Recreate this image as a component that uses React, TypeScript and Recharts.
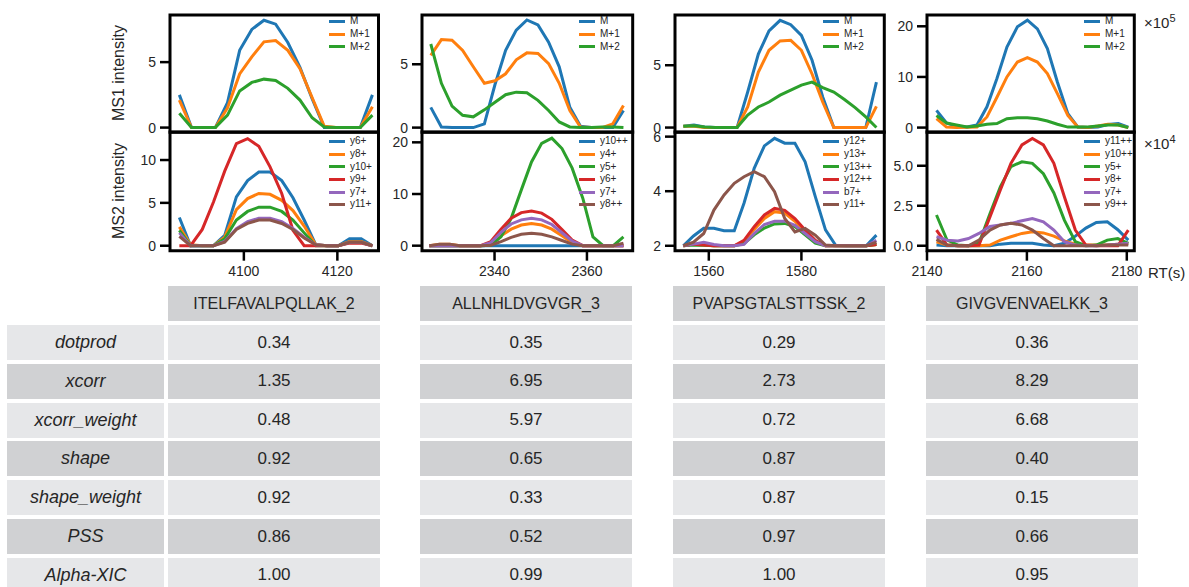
import React from 'react';
import { LineChart, Line, XAxis, YAxis, ReferenceArea, Legend } from 'recharts';

const FONT = '"Liberation Sans", Arial, Helvetica, sans-serif';
const TEXT = '#262626';

// tab10 colours used by the plots
const BLUE = '#1f77b4';
const ORANGE = '#ff7f0e';
const GREEN = '#2ca02c';
const RED = '#d62728';
const PURPLE = '#9467bd';
const BROWN = '#8c564b';

// ---------- ITELFAVALPQLLAK_2 ----------
const itelMs1Rt = [4086.2, 4088.8, 4091.4, 4093.9, 4096.5, 4099.1, 4101.7, 4104.3, 4106.8, 4109.4, 4112.0, 4114.6, 4117.2, 4119.7, 4122.3, 4124.9, 4127.5];
const itelM = [2.5, 0, 0, 0, 1.9, 5.9, 7.5, 8.2, 7.9, 6.5, 4.6, 2.2, 0, 0, 0, 0, 2.5];
const itelM1 = [2.1, 0, 0, 0, 1.5, 4.1, 5.4, 6.55, 6.65, 5.9, 4.5, 2.3, 0.1, 0, 0, 0, 1.6];
const itelM2 = [1.1, 0, 0, 0, 0.95, 2.8, 3.45, 3.7, 3.6, 3.0, 2.1, 0.75, 0.05, 0, 0, 0, 0.95];

const itelMs2Rt = [4086.2, 4088.6, 4091.1, 4093.5, 4095.9, 4098.4, 4100.8, 4103.2, 4105.6, 4108.1, 4110.5, 4112.9, 4115.4, 4117.8, 4120.2, 4122.6, 4125.1, 4127.5];
const itelY6 = [3.3, 0, 0, 0, 1.2, 5.7, 7.6, 8.6, 8.6, 7.6, 5.6, 3.0, 0.1, 0, 0, 0.8, 0.8, 0];
const itelY8 = [2.2, 0.1, 0, 0, 1.0, 4.2, 5.5, 6.1, 6.0, 5.3, 4.1, 2.3, 0.1, 0, 0, 0.5, 0.5, 0];
const itelY10 = [1.8, 0, 0, 0, 0.8, 3.0, 4.0, 4.5, 4.5, 4.0, 3.0, 1.5, 0, 0, 0, 0.4, 0.4, 0];
const itelY9 = [0, 0, 1.9, 5.1, 8.7, 11.9, 12.5, 11.6, 9.2, 6.1, 1.8, 0, 0, 0, 0, 0.3, 0.3, 0];
const itelY7 = [1.5, 0, 0, 0, 0.5, 2.0, 2.8, 3.2, 3.2, 2.8, 2.0, 1.0, 0.1, 0, 0, 0.4, 0.4, 0];
const itelY11 = [1.1, 0, 0, 0, 0.4, 1.9, 2.6, 3.0, 3.0, 2.6, 1.9, 0.9, 0.1, 0, 0, 0.4, 0.4, 0];

// ---------- ALLNHLDVGVGR_3 ----------
const allnMs1Rt = [2326.2, 2328.5, 2330.8, 2333.1, 2335.4, 2337.8, 2340.1, 2342.4, 2344.7, 2347.0, 2349.4, 2351.7, 2354.0, 2356.3, 2358.6, 2361.0, 2363.3, 2365.6, 2367.9];
const allnM = [1.6, 0.05, 0, 0, 0, 0.3, 3.4, 6.1, 7.7, 8.5, 8.1, 6.75, 4.8, 1.6, 0.1, 0, 0, 0, 1.35];
const allnM1 = [5.7, 6.95, 6.9, 6.1, 4.8, 3.5, 3.7, 4.25, 5.35, 5.9, 5.85, 5.05, 3.5, 1.35, 0.05, 0, 0, 0.3, 1.75];
const allnM2 = [6.6, 3.5, 1.7, 0.97, 0.85, 1.4, 2.0, 2.6, 2.8, 2.75, 2.15, 1.35, 0.45, 0.05, 0, 0, 0.05, 0.05, 0];

const allnMs2Rt = [2325.9, 2328.1, 2330.3, 2332.5, 2334.7, 2337.0, 2339.2, 2341.4, 2343.6, 2345.8, 2348.0, 2350.2, 2352.4, 2354.6, 2356.8, 2359.1, 2361.3, 2363.5, 2365.7, 2367.9];
const allnY10pp = [0, 0, 0, 0, 0, 0, 0, 0, 0, 0, 0, 0, 0, 0, 0, 0, 0, 0, 0, 0];
const allnY4 = [0, 0.3, 0.3, 0, 0, 0, 0.4, 1.9, 3.2, 4.0, 4.3, 4.0, 3.2, 1.9, 0.6, 0, 0, 0, 0, 0];
const allnY5 = [0, 0, 0, 0, 0, 0, 0.1, 1.7, 5.3, 10.8, 16.2, 19.8, 20.8, 18.8, 15.0, 9.2, 1.7, 0, 0, 1.7];
const allnY6 = [0, 0, 0, 0, 0, 0, 0.8, 3.2, 5.3, 6.4, 6.7, 6.3, 5.1, 3.1, 1.1, 0, 0, 0, 0, 0];
const allnY7 = [0, 0, 0, 0, 0, 0, 0.6, 2.6, 4.2, 5.0, 5.3, 5.0, 4.1, 2.5, 0.9, 0, 0, 0, 0, 0];
const allnY8pp = [0, 0.3, 0.3, 0, 0, 0, 0.1, 0.8, 1.6, 2.2, 2.4, 2.2, 1.7, 1.0, 0.3, 0, 0, 0, 0, 0.5];

// ---------- PVAPSGTALSTTSSK_2 ----------
const pvapMs1Rt = [1554.5, 1556.8, 1559.1, 1561.4, 1563.8, 1566.1, 1568.4, 1570.7, 1573.0, 1575.4, 1577.7, 1580.0, 1582.3, 1584.6, 1587.0, 1589.3, 1591.6, 1593.9, 1596.2];
const pvapM = [0.1, 0.2, 0.05, 0, 0, 0, 2.85, 5.9, 7.75, 8.6, 8.25, 7.4, 5.4, 2.45, 0, 0, 0, 0, 3.65];
const pvapM1 = [0.1, 0.1, 0, 0, 0, 0, 1.65, 4.45, 6.2, 6.95, 7.0, 6.2, 4.3, 2.05, 0, 0, 0, 0, 1.7];
const pvapM2 = [0.1, 0.15, 0.05, 0, 0, 0, 1.0, 1.65, 2.05, 2.6, 3.0, 3.4, 3.65, 3.2, 2.85, 2.25, 1.6, 0.85, 0];

const pvapMs2Rt = [1554.5, 1556.7, 1558.9, 1561.1, 1563.3, 1565.5, 1567.6, 1569.8, 1572.0, 1574.2, 1576.4, 1578.6, 1580.8, 1583.0, 1585.2, 1587.4, 1589.6, 1591.8, 1594.0, 1596.2];
const pvapY12 = [2.0, 2.36, 2.64, 2.64, 2.55, 2.55, 3.56, 4.84, 5.66, 5.94, 5.76, 5.76, 5.08, 3.8, 2.58, 2.02, 2.0, 2.0, 2.0, 2.39];
const pvapY13 = [2.0, 2.06, 2.03, 2.0, 2.0, 2.0, 2.15, 2.6, 3.0, 3.25, 3.2, 2.9, 2.5, 2.15, 2.0, 2.0, 2.0, 2.0, 2.0, 2.05];
const pvapY13pp = [2.0, 2.03, 2.02, 2.0, 2.0, 2.0, 2.08, 2.4, 2.65, 2.8, 2.82, 2.7, 2.4, 2.1, 2.0, 2.0, 2.0, 2.0, 2.0, 2.05];
const pvapY12pp = [2.0, 2.06, 2.03, 2.0, 2.0, 2.0, 2.2, 2.7, 3.13, 3.37, 3.3, 3.0, 2.58, 2.2, 2.0, 2.0, 2.0, 2.0, 2.0, 2.05];
const pvapB7 = [2.0, 2.06, 2.13, 2.05, 2.0, 2.0, 2.05, 2.45, 2.78, 2.9, 2.9, 2.75, 2.45, 2.15, 2.0, 2.0, 2.0, 2.0, 2.0, 2.2];
const pvapY11 = [2.0, 2.13, 2.45, 3.31, 3.86, 4.29, 4.53, 4.72, 4.53, 3.98, 3.0, 2.51, 2.64, 2.39, 2.03, 2.0, 2.0, 2.0, 2.0, 2.13];

// ---------- GIVGVENVAELKK_3 ----------
const givgMs1Rt = [2141.9, 2143.9, 2145.9, 2148.0, 2150.0, 2152.0, 2154.0, 2156.0, 2158.1, 2160.1, 2162.1, 2164.1, 2166.1, 2168.2, 2170.2, 2172.2, 2174.2, 2176.2, 2178.3, 2180.3];
const givgM = [3.4, 0.9, 0.26, 0.1, 0.5, 4.1, 9.7, 15.9, 19.9, 21.2, 19.5, 15.6, 9.0, 2.75, 0.1, 0, 0.1, 0.6, 0.8, 0.1];
const givgM1 = [1.75, 0.1, 0, 0.05, 0.1, 2.1, 6.0, 10.0, 12.95, 13.8, 12.95, 10.65, 6.7, 2.4, 0.1, 0, 0.3, 0.65, 0.5, 0];
const givgM2 = [2.4, 0.9, 0.5, 0.1, 0.3, 0.65, 0.8, 1.75, 1.95, 1.95, 1.75, 1.3, 0.65, 0.1, 0.1, 0.1, 0.3, 0.5, 0.5, 0];

const givgMs2Rt = [2141.9, 2144.0, 2146.2, 2148.3, 2150.4, 2152.6, 2154.7, 2156.8, 2159.0, 2161.1, 2163.3, 2165.4, 2167.5, 2169.7, 2171.8, 2173.9, 2176.1, 2178.2, 2180.3];
const givgY11pp = [0.04, 0, 0, 0, 0, 0, 0.1, 0.15, 0.15, 0.15, 0.04, 0, 0.15, 0.6, 1.1, 1.45, 1.5, 1.0, 0.35];
const givgY10pp = [0.25, 0.05, 0, 0, 0, 0.04, 0.35, 0.56, 0.77, 0.88, 0.8, 0.6, 0.3, 0.1, 0.04, 0.04, 0.05, 0.1, 0.15];
const givgY5 = [1.92, 0.36, 0.04, 0, 0.15, 2.0, 3.7, 4.95, 5.25, 5.15, 4.5, 3.3, 1.6, 0.25, 0, 0.04, 0.35, 0.45, 0.15];
const givgY8 = [0.98, 0.04, 0, 0, 0.04, 1.8, 3.5, 5.15, 6.3, 6.7, 6.3, 5.15, 3.06, 0.98, 0.04, 0, 0, 0, 0.98];
const givgY7 = [0.56, 0.35, 0.3, 0.45, 0.77, 1.2, 1.3, 1.4, 1.56, 1.7, 1.5, 0.98, 0.25, 0.04, 0, 0, 0.04, 0.1, 0.15];
const givgY9pp = [0.4, 0.04, 0, 0, 0.35, 0.98, 1.3, 1.4, 1.3, 0.98, 0.45, 0, 0, 0, 0, 0, 0.05, 0.05, 0.05];

// ---------- score table ----------
const PEPTIDES = ['ITELFAVALPQLLAK_2', 'ALLNHLDVGVGR_3', 'PVAPSGTALSTTSSK_2', 'GIVGVENVAELKK_3'];
const SCORE_NAMES = ['dotprod', 'xcorr', 'xcorr_weight', 'shape', 'shape_weight', 'PSS', 'Alpha-XIC'];
const dotprod = ['0.34', '0.35', '0.29', '0.36'];
const xcorr = ['1.35', '6.95', '2.73', '8.29'];
const xcorrWeight = ['0.48', '5.97', '0.72', '6.68'];
const shape = ['0.92', '0.65', '0.87', '0.40'];
const shapeWeight = ['0.92', '0.33', '0.87', '0.15'];
const pss = ['0.86', '0.52', '0.97', '0.66'];
const alphaXic = ['1.00', '0.99', '1.00', '0.95'];
const SCORE_ROWS = [dotprod, xcorr, xcorrWeight, shape, shapeWeight, pss, alphaXic];

type Series = { name: string; values: number[]; color: string };

const YW = 50;
const MT = 6;
const MR = 26;
const XH = 32;

function LegendBox({ series }: { series: Series[] }) {
    return (
        <div style={{ fontFamily: FONT, fontSize: 10, color: TEXT, lineHeight: '12.6px' }}>
            {series.map((s) => (
                <div key={s.name} style={{ display: 'flex', alignItems: 'center', height: 12.6, whiteSpace: 'nowrap' }}>
                    <span style={{ display: 'inline-block', width: 16, height: 3, background: s.color, marginRight: 5 }} />
                    <span>{s.name}</span>
                </div>
            ))}
        </div>
    );
}

function Panel(props: {
    frameL: number; frameR: number; frameT: number; frameB: number;
    rt: number[]; series: Series[];
    xDomain: [number, number]; yDomain: [number, number];
    yTicks: number[]; xTicks?: number[];
    legendX: number; legendY: number;
    fmt?: (v: number) => string;
}) {
    const { frameL, frameR, frameT, frameB, rt, series, xDomain, yDomain, yTicks, xTicks, legendX, legendY } = props;
    const showX = !!xTicks;
    const chartLeft = frameL - YW;
    const chartTop = frameT - MT;
    const width = YW + (frameR - frameL) + MR;
    const height = MT + (frameB - frameT) + (showX ? XH : 4);
    const data = rt.map((t, i) => {
        const row: any = { t };
        series.forEach((s) => { row[s.name] = s.values[i]; });
        return row;
    });
    const tickStyle = { fill: TEXT, fontSize: 14, fontFamily: FONT };
    const tickLine = { stroke: '#000', strokeWidth: 2.5 };

    return (
        <div style={{ position: 'absolute', left: chartLeft, top: chartTop }}>
            <LineChart width={width} height={height} data={data}
                margin={{ top: MT, right: MR, bottom: showX ? 0 : 4, left: 0 }}>
                <XAxis type="number" dataKey="t" domain={xDomain} allowDataOverflow
                    hide={!showX} ticks={xTicks} interval={0} height={XH}
                    axisLine={false} tickLine={tickLine} tickSize={10} tickMargin={5} tick={tickStyle} />
                <YAxis type="number" domain={yDomain} allowDataOverflow ticks={yTicks} interval={0}
                    width={YW} axisLine={false} tickLine={tickLine} tickSize={10} tickMargin={4}
                    tick={tickStyle} tickFormatter={props.fmt || ((v: number) => String(v))} />
                {series.map((s) => (
                    <Line key={s.name} type="linear" dataKey={s.name} stroke={s.color} strokeWidth={3}
                        dot={false} activeDot={false} isAnimationActive={false} />
                ))}
                <ReferenceArea x1={xDomain[0]} x2={xDomain[1]} y1={yDomain[0]} y2={yDomain[1]}
                    fill="none" fillOpacity={0} stroke="#000" strokeWidth={3} ifOverflow="visible" />
                <Legend layout="vertical" align="center" verticalAlign="middle"
                    wrapperStyle={{ left: legendX - chartLeft, top: legendY - 6.3 - chartTop, width: 'auto', height: 'auto' }}
                    content={() => <LegendBox series={series} />} />
            </LineChart>
        </div>
    );
}

const TOP: [number, number] = [14.7, 132];
const BOT: [number, number] = [132, 250.7];

export default function App() {
    const ms1 = (a: number[], b: number[], c: number[]): Series[] => [
        { name: 'M', values: a, color: BLUE },
        { name: 'M+1', values: b, color: ORANGE },
        { name: 'M+2', values: c, color: GREEN },
    ];

    const cellBase: React.CSSProperties = {
        position: 'absolute', height: 35, display: 'flex', alignItems: 'center',
        justifyContent: 'center', fontFamily: FONT, color: TEXT,
    };
    const colLefts = [168, 420, 673, 926];
    const LIGHT = '#e6e7e9';
    const DARK = '#d0d1d3';

    return (
        <div style={{ position: 'absolute', left: 0, top: 0, width: 1189, height: 587, background: '#fff', overflow: 'hidden' }}>
            {/* column 1 */}
            <Panel frameL={169.5} frameR={378} frameT={TOP[0]} frameB={TOP[1]} rt={itelMs1Rt}
                series={ms1(itelM, itelM1, itelM2)} xDomain={[4084.2, 4128.8]} yDomain={[-0.36, 8.6]}
                yTicks={[0, 5]} legendX={329} legendY={21.7} />
            <Panel frameL={169.5} frameR={378} frameT={BOT[0]} frameB={BOT[1]} rt={itelMs2Rt}
                series={[
                    { name: 'y6+', values: itelY6, color: BLUE },
                    { name: 'y8+', values: itelY8, color: ORANGE },
                    { name: 'y10+', values: itelY10, color: GREEN },
                    { name: 'y9+', values: itelY9, color: RED },
                    { name: 'y7+', values: itelY7, color: PURPLE },
                    { name: 'y11+', values: itelY11, color: BROWN },
                ]}
                xDomain={[4084.2, 4128.8]} yDomain={[-0.58, 13.27]} yTicks={[0, 5, 10]} xTicks={[4100, 4120]}
                legendX={329} legendY={141.7} />

            {/* column 2 */}
            <Panel frameL={422.3} frameR={633} frameT={TOP[0]} frameB={TOP[1]} rt={allnMs1Rt}
                series={ms1(allnM, allnM1, allnM2)} xDomain={[2324.3, 2369.9]} yDomain={[-0.37, 8.89]}
                yTicks={[0, 5]} legendX={579} legendY={21.7} />
            <Panel frameL={422.3} frameR={633} frameT={BOT[0]} frameB={BOT[1]} rt={allnMs2Rt}
                series={[
                    { name: 'y10++', values: allnY10pp, color: BLUE },
                    { name: 'y4+', values: allnY4, color: ORANGE },
                    { name: 'y5+', values: allnY5, color: GREEN },
                    { name: 'y6+', values: allnY6, color: RED },
                    { name: 'y7+', values: allnY7, color: PURPLE },
                    { name: 'y8++', values: allnY8pp, color: BROWN },
                ]}
                xDomain={[2324.3, 2369.9]} yDomain={[-0.97, 22.0]} yTicks={[0, 10, 20]} xTicks={[2340, 2360]}
                legendX={579} legendY={141.7} />

            {/* column 3 */}
            <Panel frameL={674.7} frameR={884} frameT={TOP[0]} frameB={TOP[1]} rt={pvapMs1Rt}
                series={ms1(pvapM, pvapM1, pvapM2)} xDomain={[1552.7, 1597.9]} yDomain={[-0.38, 9.03]}
                yTicks={[0, 5]} legendX={823} legendY={21.7} />
            <Panel frameL={674.7} frameR={884} frameT={BOT[0]} frameB={BOT[1]} rt={pvapMs2Rt}
                series={[
                    { name: 'y12+', values: pvapY12, color: BLUE },
                    { name: 'y13+', values: pvapY13, color: ORANGE },
                    { name: 'y13++', values: pvapY13pp, color: GREEN },
                    { name: 'y12++', values: pvapY12pp, color: RED },
                    { name: 'b7+', values: pvapB7, color: PURPLE },
                    { name: 'y11+', values: pvapY11, color: BROWN },
                ]}
                xDomain={[1552.7, 1597.9]} yDomain={[1.82, 6.17]} yTicks={[2, 4, 6]} xTicks={[1560, 1580]}
                legendX={823} legendY={141.7} />

            {/* column 4 */}
            <Panel frameL={926.7} frameR={1134} frameT={TOP[0]} frameB={TOP[1]} rt={givgMs1Rt}
                series={ms1(givgM, givgM1, givgM2)} xDomain={[2140, 2181.5]} yDomain={[-0.93, 22.23]}
                yTicks={[0, 10, 20]} legendX={1084} legendY={21.7} />
            <Panel frameL={926.7} frameR={1134} frameT={BOT[0]} frameB={BOT[1]} rt={givgMs2Rt}
                series={[
                    { name: 'y11++', values: givgY11pp, color: BLUE },
                    { name: 'y10++', values: givgY10pp, color: ORANGE },
                    { name: 'y5+', values: givgY5, color: GREEN },
                    { name: 'y8+', values: givgY8, color: RED },
                    { name: 'y7+', values: givgY7, color: PURPLE },
                    { name: 'y9++', values: givgY9pp, color: BROWN },
                ]}
                xDomain={[2140, 2181.5]} yDomain={[-0.31, 7.11]} yTicks={[0, 2.5, 5]} xTicks={[2140, 2160, 2180]}
                legendX={1084} legendY={141.7} fmt={(v: number) => v.toFixed(1)} />

            {/* axis titles and scale notes */}
            <div style={{ position: 'absolute', left: 119, top: 73, transform: 'translate(-50%, -50%) rotate(-90deg)', fontFamily: FONT, fontSize: 16, color: TEXT, whiteSpace: 'nowrap' }}>MS1 intensity</div>
            <div style={{ position: 'absolute', left: 119, top: 191, transform: 'translate(-50%, -50%) rotate(-90deg)', fontFamily: FONT, fontSize: 16, color: TEXT, whiteSpace: 'nowrap' }}>MS2 intensity</div>
            <div style={{ position: 'absolute', left: 1144, top: 12, fontFamily: FONT, fontSize: 15, color: TEXT, whiteSpace: 'nowrap' }}>×10<sup style={{ fontSize: 11 }}>5</sup></div>
            <div style={{ position: 'absolute', left: 1144, top: 133, fontFamily: FONT, fontSize: 15, color: TEXT, whiteSpace: 'nowrap' }}>×10<sup style={{ fontSize: 11 }}>4</sup></div>
            <div style={{ position: 'absolute', left: 1148, top: 264, fontFamily: FONT, fontSize: 15, color: TEXT, whiteSpace: 'nowrap' }}>RT(s)</div>

            {/* score table */}
            {PEPTIDES.map((p, j) => (
                <div key={p} style={{ ...cellBase, left: colLefts[j], top: 286, width: 212, background: DARK, fontSize: 16 }}>{p}</div>
            ))}
            {SCORE_NAMES.map((name, i) => {
                const top = 325 + 38.8 * i;
                const bg = i % 2 === 0 ? LIGHT : DARK;
                return (
                    <React.Fragment key={name}>
                        <div style={{ ...cellBase, left: 7, top, width: 157, background: bg, fontSize: 18, fontStyle: 'italic' }}>{name}</div>
                        {SCORE_ROWS[i].map((v, j) => (
                            <div key={j} style={{ ...cellBase, left: colLefts[j], top, width: 212, background: bg, fontSize: 17 }}>{v}</div>
                        ))}
                    </React.Fragment>
                );
            })}
        </div>
    );
}
